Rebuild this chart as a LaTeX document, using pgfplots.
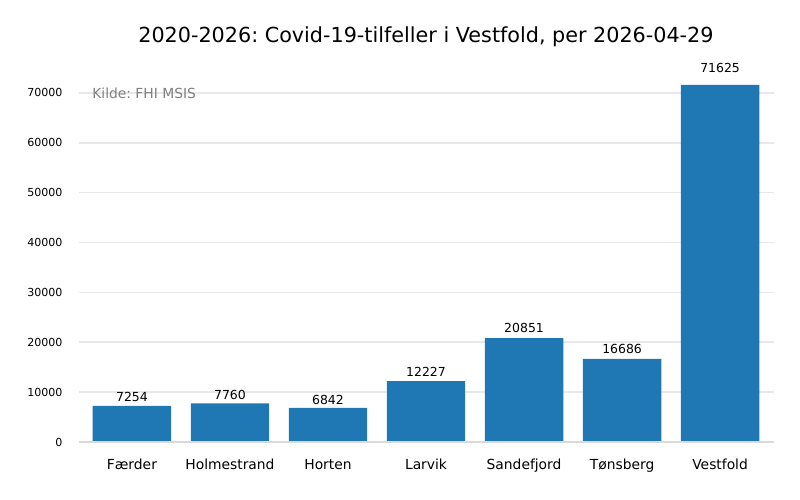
\documentclass[border=0pt]{standalone}
\usepackage{pgfplots}
\pgfplotsset{compat=1.18}
\usepackage{fontspec}
\setmainfont{DejaVu Sans}
\frenchspacing
\definecolor{barblue}{HTML}{1F77B4}
\definecolor{gridgrey}{HTML}{E8E8E8}
\definecolor{axgrey}{HTML}{DADADA}
\begin{document}
\begin{tikzpicture}[x=1bp,y=1bp]
\useasboundingbox (0,0) rectangle (800,500);
\node[font=\fontsize{20.8}{24}\selectfont, anchor=center] at (426,463) {2020-2026: Covid-19-tilfeller i Vestfold, per 2026-04-29};
\begin{axis}[
  at={(79bp,58bp)}, anchor=south west,
  scale only axis, width=695bp, height=374bp,
  xmin=-0.54, xmax=6.55, ymin=0, ymax=75000,
  axis x line*=bottom, axis y line*=left,
  x axis line style={draw=none},
  y axis line style={draw=none},
  xtick={0,1,2,3,4,5,6},
  xticklabels={Færder,Holmestrand,Horten,Larvik,Sandefjord,Tønsberg,Vestfold},
  xtick style={draw=none}, ytick style={draw=none},
  xticklabel style={font=\fontsize{13.9}{16}\selectfont, text height=10.5bp, text depth=3bp, yshift=-13bp},
  ytick={0,10000,20000,30000,40000,50000,60000,70000},
  ymajorgrids, grid style={gridgrey, line width=1.6bp},
  scaled y ticks=false,
  yticklabel style={font=\fontsize{11.1}{13}\selectfont, xshift=-13bp},
  /pgf/number format/assume math mode=true,
  /pgf/number format/1000 sep={},
  clip=false,
]
\addplot[ybar, bar width=0.8, bar shift=0pt, fill=barblue, draw=none] coordinates {(0,7254) (1,7760) (2,6842) (3,12227) (4,20851) (5,16686) (6,71625)};
\addplot[draw=none, mark=none, nodes near coords, point meta=explicit symbolic,
  every node near coord/.append style={font=\fontsize{12.5}{14}\selectfont, black, anchor=center}]
  coordinates {(0,9000)[7254] (1,9500)[7760] (2,8400)[6842] (3,14100)[12227] (4,22900)[20851] (5,18600)[16686] (6,75100)[71625]};
\draw[axgrey, line width=2.6bp] (axis cs:-0.54,0) -- (axis cs:6.55,0);
\node[anchor=west, text=gray, font=\fontsize{13.9}{16}\selectfont] at (axis cs:-0.44,70000) {Kilde: FHI MSIS};
\end{axis}
\end{tikzpicture}
\end{document}
